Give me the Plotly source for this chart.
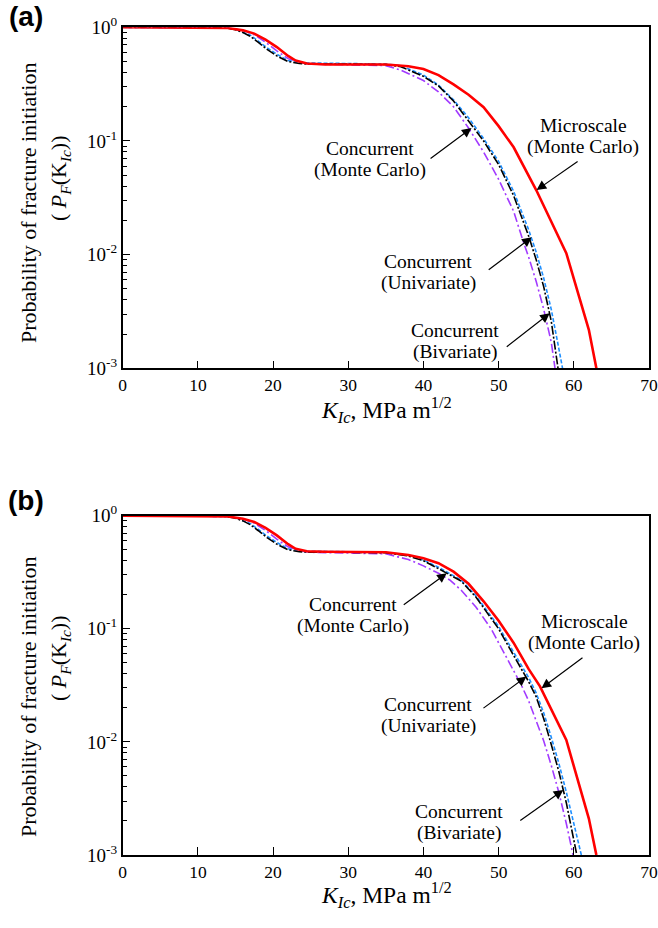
import math
import plotly.graph_objects as go

# ---------------- data ----------------
# Panel (a)
micro_a_x = [0, 12, 14, 16, 17.5, 19, 20.5, 22, 23, 24.5, 27, 35, 38, 40, 42, 44, 46, 48, 50, 52, 54, 55, 59, 62, 63]
micro_a_y = [1, 1, 0.985, 0.94, 0.88, 0.78, 0.67, 0.56, 0.51, 0.48, 0.47, 0.47, 0.455, 0.43, 0.38, 0.315, 0.255, 0.198, 0.135, 0.088, 0.05, 0.037, 0.0103, 0.00218, 0.001]

mc_a_x = [0, 12, 14, 15, 16, 17, 18, 19.2, 20.5, 22, 23.5, 25, 30, 35, 37, 40, 42, 44, 46, 48, 50, 52, 54, 55, 56, 57, 57.9]
mc_a_y = [1, 1, 0.98, 0.95, 0.9, 0.83, 0.74, 0.64, 0.56, 0.5, 0.48, 0.475, 0.475, 0.47, 0.45, 0.37, 0.305, 0.225, 0.15, 0.1, 0.062, 0.033, 0.0145, 0.009, 0.0052, 0.0026, 0.001]

uni_a_x = [0, 12, 14, 15, 16, 17, 18, 19.2, 20.5, 22, 23.5, 25, 30, 35, 37, 40, 42, 44, 46, 48, 50, 52, 54, 55, 56, 57, 58, 58.5]
uni_a_y = [1, 1, 0.985, 0.96, 0.91, 0.85, 0.76, 0.66, 0.58, 0.51, 0.49, 0.485, 0.48, 0.475, 0.46, 0.38, 0.31, 0.23, 0.16, 0.105, 0.066, 0.036, 0.0165, 0.0105, 0.0062, 0.0033, 0.0015, 0.001]

biv_a_x = [0, 12, 14, 16, 17.5, 19, 20.5, 22, 23.5, 25, 30, 35, 37, 40, 42, 44, 46, 48, 50, 52, 53.2, 54, 55, 56, 57, 57.5]
biv_a_y = [1, 1, 0.985, 0.94, 0.86, 0.74, 0.62, 0.53, 0.49, 0.475, 0.47, 0.46, 0.42, 0.34, 0.27, 0.2, 0.13, 0.08, 0.046, 0.024, 0.0135, 0.0095, 0.0058, 0.0033, 0.0017, 0.001]

# Panel (b)
micro_b_x = [0, 12, 14, 16, 17.5, 19, 20.5, 22, 23, 24.5, 27, 35, 38, 40, 42, 44, 46, 48, 50, 52, 54, 55.5, 59, 62, 63]
micro_b_y = [1, 1, 0.985, 0.94, 0.88, 0.78, 0.67, 0.56, 0.51, 0.485, 0.48, 0.475, 0.45, 0.42, 0.38, 0.32, 0.25, 0.175, 0.118, 0.075, 0.044, 0.031, 0.0104, 0.0021, 0.001]

mc_b_x = [0, 12, 14, 15, 16, 17, 18, 19.2, 20.5, 22, 23.5, 25, 30, 35, 38, 40, 42, 44, 45, 47, 49, 50, 52, 53, 54, 55, 56, 57, 58, 59, 60, 60.4]
mc_b_y = [1, 1, 0.98, 0.95, 0.9, 0.83, 0.74, 0.64, 0.56, 0.5, 0.48, 0.475, 0.475, 0.47, 0.44, 0.40, 0.34, 0.29, 0.265, 0.19, 0.125, 0.10, 0.058, 0.045, 0.034, 0.025, 0.016, 0.0095, 0.0055, 0.0029, 0.0014, 0.001]

uni_b_x = [0, 12, 14, 15, 16, 17, 18, 19.2, 20.5, 22, 23.5, 25, 30, 35, 38, 40, 42, 44, 45, 47, 49, 50, 52, 53, 54, 55, 56, 57, 58, 59, 60, 61]
uni_b_y = [1, 1, 0.985, 0.96, 0.91, 0.85, 0.76, 0.66, 0.58, 0.51, 0.49, 0.485, 0.48, 0.475, 0.445, 0.405, 0.35, 0.295, 0.27, 0.195, 0.13, 0.105, 0.062, 0.048, 0.037, 0.027, 0.018, 0.011, 0.0065, 0.0036, 0.0019, 0.001]

biv_b_x = [0, 12, 14, 16, 17.5, 19, 20.5, 22, 23.5, 25, 30, 35, 38, 40, 42, 43.5, 45, 47, 49, 51, 52, 53, 54, 55, 56, 57, 58, 59, 59.9]
biv_b_y = [1, 1, 0.985, 0.94, 0.86, 0.74, 0.62, 0.53, 0.49, 0.475, 0.47, 0.46, 0.41, 0.36, 0.31, 0.27, 0.22, 0.155, 0.10, 0.057, 0.043, 0.032, 0.023, 0.0155, 0.0102, 0.0062, 0.0036, 0.0019, 0.001]

x_ticks = [0, 10, 20, 30, 40, 50, 60, 70]
y_ticks = [0.001, 0.01, 0.1, 1]
y_tick_labels = ["10<sup>-3</sup>", "10<sup>-2</sup>", "10<sup>-1</sup>", "10<sup>0</sup>"]

# annotation labels: (line 1, line 2, arrow-head x, arrow-head y)
labels_a = [
    ("Microscale", "(Monte Carlo)", 55.05, 0.037),
    ("Concurrent", "(Monte Carlo)", 46.4, 0.130),
    ("Concurrent", "(Univariate)", 54.4, 0.0142),
    ("Concurrent", "(Bivariate)", 56.8, 0.00305),
]
labels_b = [
    ("Concurrent", "(Monte Carlo)", 43.1, 0.31),
    ("Microscale", "(Monte Carlo)", 55.7, 0.0298),
    ("Concurrent", "(Univariate)", 53.7, 0.0378),
    ("Concurrent", "(Bivariate)", 58.6, 0.00376),
]

# ---------------- layout helpers ----------------
W, H = 658, 928
SERIF = "Liberation Serif"


def px(x):
    return x / W


def py(y):
    return 1 - y / H


fig = go.Figure()

styles = {
    "biv": dict(color="#A23BFF", width=1.6, dash="9px,3px,2px,3px"),
    "uni": dict(color="#1E8FFF", width=1.6, dash="4px,2px"),
    "mc": dict(color="black", width=1.6, dash="9px,2px,2px,2px"),
    "micro": dict(color="#FF0000", width=2.6),
}

panels = [
    ("x", "y", [(biv_a_x, biv_a_y, "biv"), (uni_a_x, uni_a_y, "uni"), (mc_a_x, mc_a_y, "mc"), (micro_a_x, micro_a_y, "micro")]),
    ("x2", "y2", [(biv_b_x, biv_b_y, "biv"), (uni_b_x, uni_b_y, "uni"), (mc_b_x, mc_b_y, "mc"), (micro_b_x, micro_b_y, "micro")]),
]
for xa, ya, series in panels:
    for xs, ys, key in series:
        fig.add_trace(go.Scatter(x=xs, y=ys, mode="lines", line=styles[key], xaxis=xa, yaxis=ya,
                                 showlegend=False, hoverinfo="skip"))

minor_vals = [m * 10 ** e for e in (-3, -2, -1) for m in range(2, 10)]


def xaxis_cfg(domain, anchor):
    return dict(domain=domain, anchor=anchor, range=[0, 70], tickvals=x_ticks, ticks="inside", ticklen=8,
                tickwidth=1.3, tickcolor="black", showline=True, linecolor="black", linewidth=1.5, mirror=True,
                showgrid=False, zeroline=False, automargin=False,
                tickfont=dict(family=SERIF, size=17.5, color="black"))


def yaxis_cfg(domain, anchor):
    return dict(domain=domain, anchor=anchor, type="log", range=[-3, 0], tickvals=y_ticks, ticktext=y_tick_labels,
                ticks="inside", ticklen=8, tickwidth=1.3, tickcolor="black", showline=True, linecolor="black",
                linewidth=1.5, mirror=True, showgrid=False, zeroline=False, automargin=False,
                tickfont=dict(family=SERIF, size=19, color="black"),
                minor=dict(tickvals=minor_vals, ticks="inside", ticklen=5, tickwidth=1.1, tickcolor="black",
                           showgrid=False))


x0, x1 = px(122.7), px(649)
fig.update_layout(
    width=W, height=H, margin=dict(l=0, r=0, t=0, b=0, pad=0, autoexpand=False),
    autosize=False,
    font=dict(family=SERIF, color="black"),
    paper_bgcolor="white", plot_bgcolor="white",
    xaxis=xaxis_cfg([x0, x1], "y"),
    yaxis=yaxis_cfg([py(368.3), py(27.3)], "x"),
    xaxis2=xaxis_cfg([x0, x1], "y2"),
    yaxis2=yaxis_cfg([py(855), py(515.7)], "x2"),
)

annotations = []


def txt(text, x, y, size, angle=0, family=SERIF):
    return dict(text=text, x=px(x), y=py(y), xref="paper", yref="paper", xanchor="center", yanchor="middle",
                textangle=angle, showarrow=False, font=dict(family=family, size=size, color="black"))


# panel letters
annotations.append(txt("<b>(a)</b>", 26, 16, 28, family="Liberation Sans"))
annotations.append(txt("<b>(b)</b>", 26, 500, 28, family="Liberation Sans"))

# axis titles
for (ycen1, ycen2, xt_y) in [(203, 178, 410), (697, 658, 895)]:
    annotations.append(txt("Probability of fracture initiation", 28, ycen1, 22, angle=-90))
    annotations.append(txt("( <i>P<sub>F</sub></i>(K<sub><i>Ic</i></sub>))", 60, ycen2, 22, angle=-90))
    annotations.append(txt("<i>K<sub>Ic</sub></i>, MPa m<sup>1/2</sup>", 386, xt_y, 23.5))

# arrow + text labels
text_pos_a = [(583, 136, 43, -30), (370, 159, -43, 32), (428, 272.5, -45, 34), (455, 341, -45, 35)]
text_pos_b = [(353, 615, -45, 33), (584, 632.5, 43, -32), (428, 715, -45, 33), (459, 822.5, -45, 32)]
for labels, pos, xr, yr in [(labels_a, text_pos_a, "x", "y"), (labels_b, text_pos_b, "x2", "y2")]:
    for (l1, l2, hx, hy), (tx, ty, ax, ay) in zip(labels, pos):
        annotations.append(dict(text=" ", x=hx, y=math.log10(hy), xref=xr, yref=yr, showarrow=True,
                                ax=ax, ay=ay, font=dict(size=2),
                                arrowhead=2, arrowsize=1.6, arrowwidth=1.2, arrowcolor="black", standoff=0))
        annotations.append(txt(l1, tx, ty - 10.8, 19.5))
        annotations.append(txt(l2, tx, ty + 10.8, 19.5))

fig.update_layout(annotations=annotations)
fig.write_html("out.html")
